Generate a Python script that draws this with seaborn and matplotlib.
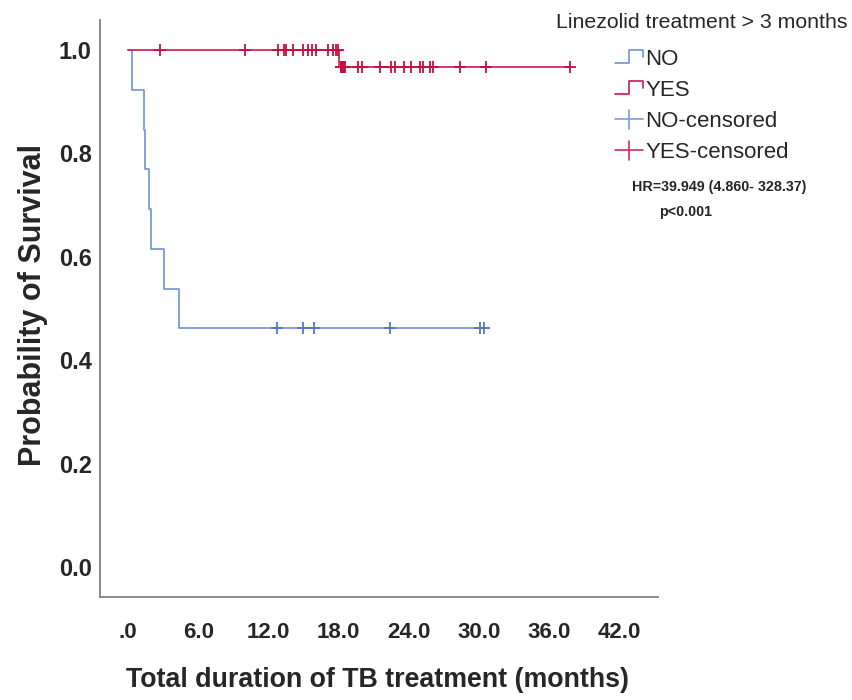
import numpy as np
import pandas as pd
import matplotlib
matplotlib.use("Agg")
import matplotlib.pyplot as plt
import seaborn as sns
from matplotlib.lines import Line2D
from matplotlib.legend_handler import HandlerBase

# ---- data (months) ----
groups = ["NO", "YES"]
no_event_times = [0.34, 1.40, 1.48, 1.82, 1.94, 3.10, 4.40]
no_censor_times = [12.7, 15.0, 15.9, 22.4, 30.1, 30.4]
yes_event_times = [18.05]
yes_censor_times = [2.7, 10.0, 12.8, 13.3, 13.5, 14.1, 15.0, 15.4, 15.7, 16.1,
                    17.1, 17.5, 17.8, 17.95,
                    18.2, 18.2, 18.25, 18.25, 18.3, 18.3, 18.3, 18.35, 18.35,
                    18.4, 18.4, 18.45, 18.45, 18.5, 18.5, 18.55,
                    19.7, 20.0, 21.5, 22.5, 22.8, 23.6, 24.2, 25.0, 25.2,
                    25.8, 26.1, 28.4, 30.6, 37.8]
x_ticks = [0, 6, 12, 18, 24, 30, 36, 42]
x_tick_labels = [".0", "6.0", "12.0", "18.0", "24.0", "30.0", "36.0", "42.0"]
y_ticks = [0.0, 0.2, 0.4, 0.6, 0.8, 1.0]
y_tick_labels = ["0.0", "0.2", "0.4", "0.6", "0.8", "1.0"]
legend_labels = ["NO", "YES", "NO-censored", "YES-censored"]
legend_title = "Linezolid treatment > 3 months"
hr_text = "HR=39.949 (4.860- 328.37)"
p_text = "p<0.001"

line_colors = {"NO": "#7a9bd6", "YES": "#d42a57"}
mark_colors = {"NO": "#5478bd", "YES": "#c4103f"}

BASE = ["Liberation Sans", "DejaVu Sans"]


def kaplan_meier(events, censored):
    """Return step points of the KM curve and the (time, survival) of censored cases."""
    times = sorted(set(events) | set(censored))
    at_risk = len(events) + len(censored)
    s = 1.0
    steps = [(0.0, 1.0)]
    cens = []
    for t in times:
        d = events.count(t)
        c = censored.count(t)
        if d:
            s *= 1 - d / at_risk
            steps.append((t, s))
        if c:
            cens += [(t, s)] * c
        at_risk -= d + c
    steps.append((times[-1], s))
    return steps, cens


curve_rows, cens_rows = [], []
for g, ev, ce in [("NO", no_event_times, no_censor_times),
                  ("YES", yes_event_times, yes_censor_times)]:
    steps, cens = kaplan_meier(ev, ce)
    curve_rows += [{"group": g, "time": t, "surv": s} for t, s in steps]
    cens_rows += [{"group": g, "time": t, "surv": s} for t, s in cens]
curves = pd.DataFrame(curve_rows)
cens_df = pd.DataFrame(cens_rows)

sns.set_style("white")
plt.rcParams["font.family"] = BASE

fig = plt.figure(figsize=(8.52, 7.0), dpi=100)
ax = fig.add_axes([100 / 852, 1 - 597 / 700, 558 / 852, 577 / 700])

for g in groups:
    sub = curves[curves["group"] == g]
    sns.lineplot(data=sub, x="time", y="surv", ax=ax, color=line_colors[g],
                 drawstyle="steps-post", estimator=None, sort=False,
                 linewidth=1.3, legend=False)
    csub = cens_df[cens_df["group"] == g]
    sns.scatterplot(data=csub, x="time", y="surv", ax=ax, marker="+",
                    color=mark_colors[g], s=70, linewidth=1.3, legend=False,
                    zorder=3)

ax.set_xlim(-2.39, 45.3)
ax.set_ylim(-0.058, 1.058)
ax.set_xticks(x_ticks)
ax.set_xticklabels(x_tick_labels, fontweight="bold", fontsize=16)
ax.set_yticks(y_ticks)
ax.set_yticklabels(y_tick_labels, fontweight="bold", fontsize=17)
ax.tick_params(axis="x", length=0, pad=18)
ax.tick_params(axis="y", length=0, pad=6)

for side in ["top", "right"]:
    ax.spines[side].set_visible(False)
for side in ["left", "bottom"]:
    ax.spines[side].set_color("#8a8a8a")
    ax.spines[side].set_linewidth(1.4)

ax.set_xlabel("Total duration of TB treatment (months)", fontweight="bold",
              fontsize=19.3)
ax.xaxis.set_label_coords(0.497, -0.144)
ax.xaxis.label.set_va("center")
ax.set_ylabel("Probability of Survival", fontweight="bold", fontsize=22)
ax.yaxis.set_label_coords(-0.12, 0.506)
ax.yaxis.label.set_va("center")


class StepHandler(HandlerBase):
    def create_artists(self, legend, orig_handle, xdescent, ydescent, width,
                       height, fontsize, trans):
        x0, y0 = -xdescent, -ydescent
        xs = [x0, x0 + 0.5 * width, x0 + 0.5 * width, x0 + width, x0 + width]
        ys = [y0 + 0.15 * height, y0 + 0.15 * height, y0 + 1.0 * height,
              y0 + 1.0 * height, y0 + 0.5 * height]
        return [Line2D(xs, ys, color=orig_handle.get_color(), lw=1.3,
                       transform=trans)]


class CrossHandler(HandlerBase):
    def create_artists(self, legend, orig_handle, xdescent, ydescent, width,
                       height, fontsize, trans):
        x0, y0 = -xdescent, -ydescent
        c = orig_handle.get_color()
        h = Line2D([x0, x0 + width], [y0 + 0.5 * height] * 2, color=c, lw=1.2,
                   transform=trans)
        v = Line2D([x0 + 0.5 * width] * 2, [y0 - 0.1 * height, y0 + 1.1 * height],
                   color=c, lw=1.2, transform=trans)
        return [h, v]


h_no = Line2D([], [], color=line_colors["NO"])
h_yes = Line2D([], [], color=line_colors["YES"])
h_no_c = Line2D([], [], color=line_colors["NO"])
h_yes_c = Line2D([], [], color=line_colors["YES"])
leg = fig.legend([h_no, h_yes, h_no_c, h_yes_c], legend_labels,
                 handler_map={h_no: StepHandler(), h_yes: StepHandler(),
                              h_no_c: CrossHandler(), h_yes_c: CrossHandler()},
                 title=legend_title, loc="upper center",
                 bbox_to_anchor=(702 / 852, 1 - 9 / 700), frameon=False,
                 prop={"size": 16},
                 title_fontproperties={"size": 15.3},
                 handlelength=1.25, handletextpad=0.1, labelspacing=0.45,
                 borderaxespad=0, borderpad=0.2)
leg._legend_box.align = "center"
# a little more room between the legend title and its entries
leg._legend_box.sep = 12

fig.text(719 / 852, 1 - 187 / 700, hr_text, ha="center", va="center",
         fontweight="bold", fontsize=10.3)
fig.text(686 / 852, 1 - 212 / 700, p_text, ha="center", va="center",
         fontweight="bold", fontsize=10.3)

fig.savefig("out.png", dpi=100)
